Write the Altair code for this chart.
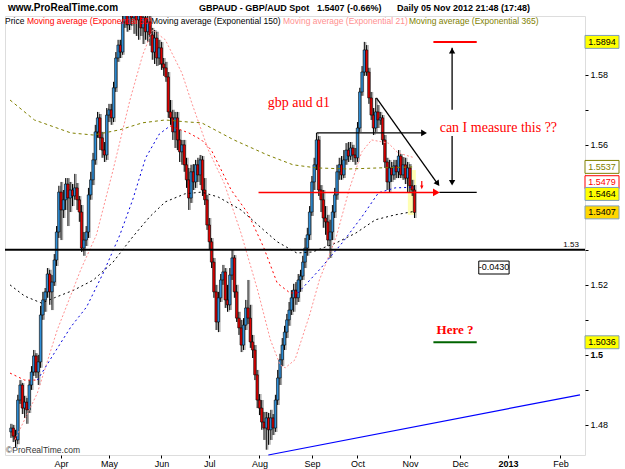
import altair as alt
import pandas as pd

# ---------------- data ----------------
# trading-day index, 0 = 1 Mar 2012 ... 177 = 5 Nov 2012
day_index = list(range(178))

opens = [
    1.4780, 1.4791, 1.4768, 1.4757, 1.4871, 1.4914, 1.4848, 1.4865, 1.4843, 1.4914,
    1.4951, 1.4997, 1.4951, 1.4980, 1.5114, 1.5157, 1.5180, 1.5231, 1.5180, 1.5208,
    1.5271, 1.5351, 1.5465, 1.5414, 1.5443, 1.5488, 1.5448, 1.5471, 1.5454, 1.5477,
    1.5443, 1.5408, 1.5305, 1.5328, 1.5351, 1.5457, 1.5500, 1.5557, 1.5637, 1.5677,
    1.5620, 1.5585, 1.5571, 1.5685, 1.5700, 1.5677, 1.5763, 1.5848, 1.5885, 1.5865,
    1.5951, 1.5980, 1.5943, 1.5985, 1.5963, 1.5997, 1.5957, 1.5974, 1.5934, 1.5963,
    1.5923, 1.5951, 1.5914, 1.5865, 1.5905, 1.5848, 1.5877, 1.5831, 1.5820, 1.5794,
    1.5694, 1.5677, 1.5637, 1.5677, 1.5614, 1.5580, 1.5600, 1.5543, 1.5500, 1.5448,
    1.5523, 1.5494, 1.5543, 1.5514, 1.5557, 1.5471, 1.5443, 1.5371, 1.5323, 1.5265,
    1.5180, 1.5094, 1.5163, 1.5214, 1.5237, 1.5157, 1.5143, 1.5228, 1.5277, 1.5180,
    1.5105, 1.5077, 1.5028, 1.5085, 1.5134, 1.5105, 1.5037, 1.5014, 1.4943, 1.4871,
    1.4848, 1.4808, 1.4791, 1.4820, 1.4786, 1.4820, 1.4791, 1.4871, 1.4934, 1.4986,
    1.5028, 1.5065, 1.5100, 1.5128, 1.5163, 1.5185, 1.5163, 1.5214, 1.5225, 1.5265,
    1.5305, 1.5343, 1.5408, 1.5494, 1.5543, 1.5614, 1.5471, 1.5443, 1.5391, 1.5380,
    1.5328, 1.5351, 1.5408, 1.5457, 1.5523, 1.5543, 1.5514, 1.5557, 1.5585, 1.5568,
    1.5591, 1.5571, 1.5563, 1.5648, 1.5751, 1.5808, 1.5871, 1.5808, 1.5734, 1.5685,
    1.5648, 1.5694, 1.5671, 1.5677, 1.5614, 1.5551, 1.5494, 1.5534, 1.5514, 1.5540,
    1.5523, 1.5568, 1.5514, 1.5543, 1.5505, 1.5534, 1.5483, 1.5471,
]
highs = [
    1.4803, 1.4800, 1.4786, 1.4886, 1.4928, 1.4920, 1.4883, 1.4877, 1.4928, 1.4968,
    1.5014, 1.5005, 1.5000, 1.5140, 1.5180, 1.5191, 1.5248, 1.5243, 1.5228, 1.5288,
    1.5368, 1.5483, 1.5494, 1.5471, 1.5505, 1.5505, 1.5494, 1.5488, 1.5517, 1.5491,
    1.5454, 1.5428, 1.5351, 1.5368, 1.5477, 1.5523, 1.5577, 1.5657, 1.5694, 1.5688,
    1.5637, 1.5608, 1.5705, 1.5717, 1.5717, 1.5780, 1.5865, 1.5900, 1.5900, 1.5980,
    1.6008, 1.6005, 1.6025, 1.6020, 1.6037, 1.6020, 1.6003, 1.6008, 1.5991, 1.5985,
    1.5980, 1.5974, 1.5934, 1.5928, 1.5923, 1.5900, 1.5894, 1.5848, 1.5837, 1.5808,
    1.5728, 1.5700, 1.5694, 1.5694, 1.5643, 1.5614, 1.5614, 1.5563, 1.5534, 1.5543,
    1.5545, 1.5557, 1.5563, 1.5571, 1.5568, 1.5505, 1.5457, 1.5391, 1.5334, 1.5277,
    1.5200, 1.5180, 1.5231, 1.5257, 1.5248, 1.5200, 1.5248, 1.5300, 1.5285, 1.5200,
    1.5123, 1.5100, 1.5105, 1.5157, 1.5214, 1.5143, 1.5057, 1.5028, 1.4957, 1.4888,
    1.4871, 1.4837, 1.4837, 1.4834, 1.4843, 1.4831, 1.4886, 1.4957, 1.5003, 1.5048,
    1.5083, 1.5117, 1.5151, 1.5185, 1.5203, 1.5208, 1.5231, 1.5243, 1.5283, 1.5334,
    1.5363, 1.5425, 1.5511, 1.5563, 1.5634, 1.5625, 1.5485, 1.5471, 1.5425, 1.5400,
    1.5386, 1.5428, 1.5477, 1.5543, 1.5563, 1.5568, 1.5585, 1.5605, 1.5608, 1.5608,
    1.5600, 1.5591, 1.5665, 1.5763, 1.5825, 1.5894, 1.5885, 1.5820, 1.5751, 1.5705,
    1.5734, 1.5714, 1.5694, 1.5685, 1.5628, 1.5563, 1.5557, 1.5551, 1.5557, 1.5557,
    1.5585, 1.5574, 1.5565, 1.5563, 1.5551, 1.5545, 1.5500, 1.5485,
]
lows = [
    1.4763, 1.4751, 1.4737, 1.4745, 1.4860, 1.4831, 1.4820, 1.4803, 1.4834, 1.4900,
    1.4940, 1.4934, 1.4914, 1.4963, 1.5100, 1.5123, 1.5163, 1.5143, 1.5128, 1.5197,
    1.5254, 1.5334, 1.5328, 1.5391, 1.5414, 1.5368, 1.5408, 1.5425, 1.5443, 1.5414,
    1.5380, 1.5294, 1.5283, 1.5311, 1.5334, 1.5443, 1.5485, 1.5543, 1.5620, 1.5585,
    1.5563, 1.5551, 1.5557, 1.5665, 1.5657, 1.5665, 1.5751, 1.5837, 1.5848, 1.5857,
    1.5934, 1.5923, 1.5928, 1.5940, 1.5917, 1.5911, 1.5900, 1.5911, 1.5888, 1.5900,
    1.5894, 1.5883, 1.5843, 1.5831, 1.5825, 1.5828, 1.5814, 1.5797, 1.5780, 1.5677,
    1.5657, 1.5614, 1.5591, 1.5585, 1.5551, 1.5543, 1.5523, 1.5477, 1.5414, 1.5434,
    1.5471, 1.5477, 1.5494, 1.5485, 1.5454, 1.5428, 1.5357, 1.5300, 1.5248, 1.5163,
    1.5071, 1.5065, 1.5151, 1.5200, 1.5134, 1.5123, 1.5128, 1.5214, 1.5163, 1.5094,
    1.5057, 1.5008, 1.5014, 1.5071, 1.5088, 1.5020, 1.4991, 1.4928, 1.4848, 1.4828,
    1.4786, 1.4757, 1.4729, 1.4743, 1.4757, 1.4771, 1.4780, 1.4857, 1.4914, 1.4968,
    1.5014, 1.5048, 1.5083, 1.5114, 1.5123, 1.5143, 1.5151, 1.5180, 1.5214, 1.5248,
    1.5283, 1.5328, 1.5397, 1.5471, 1.5528, 1.5454, 1.5408, 1.5363, 1.5343, 1.5311,
    1.5277, 1.5328, 1.5391, 1.5443, 1.5500, 1.5500, 1.5505, 1.5543, 1.5551, 1.5557,
    1.5551, 1.5543, 1.5551, 1.5637, 1.5740, 1.5797, 1.5797, 1.5717, 1.5671, 1.5628,
    1.5637, 1.5648, 1.5657, 1.5600, 1.5534, 1.5471, 1.5465, 1.5494, 1.5500, 1.5505,
    1.5505, 1.5505, 1.5500, 1.5488, 1.5465, 1.5465, 1.5454, 1.5391,
]
closes = [
    1.4791, 1.4768, 1.4757, 1.4871, 1.4914, 1.4848, 1.4865, 1.4843, 1.4914, 1.4951,
    1.4997, 1.4951, 1.4980, 1.5114, 1.5157, 1.5180, 1.5231, 1.5180, 1.5208, 1.5271,
    1.5351, 1.5465, 1.5414, 1.5443, 1.5488, 1.5448, 1.5471, 1.5454, 1.5477, 1.5443,
    1.5408, 1.5305, 1.5328, 1.5351, 1.5457, 1.5500, 1.5557, 1.5637, 1.5677, 1.5620,
    1.5585, 1.5571, 1.5685, 1.5700, 1.5677, 1.5763, 1.5848, 1.5885, 1.5865, 1.5951,
    1.5980, 1.5943, 1.5985, 1.5963, 1.5997, 1.5957, 1.5974, 1.5934, 1.5963, 1.5923,
    1.5951, 1.5914, 1.5865, 1.5905, 1.5848, 1.5877, 1.5831, 1.5820, 1.5794, 1.5694,
    1.5677, 1.5637, 1.5677, 1.5614, 1.5580, 1.5600, 1.5543, 1.5500, 1.5448, 1.5523,
    1.5494, 1.5543, 1.5514, 1.5557, 1.5471, 1.5443, 1.5371, 1.5323, 1.5265, 1.5180,
    1.5094, 1.5163, 1.5214, 1.5237, 1.5157, 1.5143, 1.5228, 1.5277, 1.5180, 1.5105,
    1.5077, 1.5028, 1.5085, 1.5134, 1.5105, 1.5037, 1.5014, 1.4943, 1.4871, 1.4848,
    1.4808, 1.4791, 1.4820, 1.4786, 1.4820, 1.4791, 1.4871, 1.4934, 1.4986, 1.5028,
    1.5065, 1.5100, 1.5128, 1.5163, 1.5185, 1.5163, 1.5214, 1.5225, 1.5265, 1.5305,
    1.5343, 1.5408, 1.5494, 1.5543, 1.5614, 1.5471, 1.5443, 1.5391, 1.5380, 1.5328,
    1.5351, 1.5408, 1.5457, 1.5523, 1.5543, 1.5514, 1.5557, 1.5585, 1.5568, 1.5591,
    1.5571, 1.5563, 1.5648, 1.5751, 1.5808, 1.5871, 1.5808, 1.5734, 1.5685, 1.5648,
    1.5694, 1.5671, 1.5677, 1.5614, 1.5551, 1.5494, 1.5534, 1.5514, 1.5540, 1.5523,
    1.5568, 1.5514, 1.5543, 1.5505, 1.5534, 1.5483, 1.5471, 1.5407,
]

# moving averages at sample days
ema21_day = [1.7, 11.6, 20.3, 30.6, 37.5, 44.8, 52.2, 57.8, 62.1, 67.7, 75.0, 79.3, 86.6, 93.5, 100.9,
             108.2, 113.8, 118.1, 120.3, 124.6, 131.0, 135.3, 142.7, 148.3, 153.9, 158.2, 165.5, 169.8, 177]
ema21_val = [1.4757, 1.4891, 1.5071, 1.5243, 1.5343, 1.5528, 1.5728, 1.5857, 1.5928, 1.5900, 1.5805, 1.5720,
             1.5585, 1.5491, 1.5348, 1.5185, 1.5043, 1.4971, 1.4963, 1.4986, 1.5114, 1.5214, 1.5337, 1.5471,
             1.5580, 1.5614, 1.5605, 1.5577, 1.5563]

ema50_day = [-0.4, 6.0, 11.6, 11.6, 19.0, 26.3, 33.2, 40.5, 47.8, 53.4, 59.1, 65.1, 69.8,
             69.8, 78.0, 83.6, 87.9, 96.6, 103.9, 110.8, 116.8, 122.4, 125.9,
             125.9, 135.3, 145.3, 153.9, 161.2, 168.5, 177]
ema50_val = [1.4948, 1.4928, 1.4928, 1.4928, 1.5005, 1.5080, 1.5137, 1.5234, 1.5343, 1.5443, 1.5563, 1.5631, 1.5654,
             1.5654, 1.5634, 1.5614, 1.5585, 1.5471, 1.5405, 1.5308, 1.5205, 1.5177, 1.5177,
             1.5177, 1.5243, 1.5320, 1.5394, 1.5463, 1.5477, 1.5479]
ema50_seg = [0, 0, 0, 1, 1, 1, 1, 1, 1, 1, 1, 1, 1,
             2, 2, 2, 2, 2, 2, 2, 2, 2, 2,
             3, 3, 3, 3, 3, 3, 3]

ema150_day = [-0.4, 6.0, 13.4, 19.0, 27.6, 36.2, 44.8, 53.4, 60.8, 67.7, 76.3, 83.6, 90.9, 100.9, 110.8,
              116.8, 125.4, 132.3, 142.7, 151.3, 159.9, 168.5, 177]
ema150_val = [1.5200, 1.5168, 1.5148, 1.5163, 1.5185, 1.5214, 1.5265, 1.5337, 1.5394, 1.5437, 1.5460, 1.5465,
              1.5451, 1.5414, 1.5357, 1.5323, 1.5291, 1.5294, 1.5320, 1.5348, 1.5386, 1.5400, 1.5410]

ema365_day = [-0.4, 10.3, 26.3, 36.2, 47.8, 57.8, 67.7, 78.0, 83.6, 97.8, 112.5, 123.7, 134.1, 148.3, 161.2, 177]
ema365_val = [1.5728, 1.5671, 1.5634, 1.5628, 1.5643, 1.5663, 1.5671, 1.5665, 1.5663, 1.5614, 1.5571, 1.5543,
              1.5534, 1.5531, 1.5534, 1.5537]

month_ticks = [22, 43, 66, 87, 109, 132, 152, 175, 197, 218, 241]
month_labels = ["Apr", "May", "Jun", "Jul", "Aug", "Sep", "Oct", "Nov", "Dec", "2013", "Feb"]

price_ticks = [1.48, 1.49, 1.50, 1.51, 1.52, 1.53, 1.54, 1.55, 1.56, 1.57, 1.58, 1.59]
price_tick_labels = ["1.48", "", "1.5", "", "1.52", "", "", "", "1.56", "", "1.58", ""]

legend_texts = ["Price", "Moving average (Exponential 50)", "Moving average (Exponential 150)",
                "Moving average (Exponential 21)", "Moving average (Exponential 365)"]

# ---------------- scales / axes / helpers ----------------
xsc = alt.Scale(domain=[-0.41, 249.6], nice=False, zero=False)
ysc = alt.Scale(domain=[1.4714, 1.5968], nice=False, zero=False)

x_expr = " : ".join(f"datum.value == {t} ? '{l}'" for t, l in zip(month_ticks, month_labels)) + " : ''"
y_expr = " : ".join(f"abs(datum.value - {t}) < 0.001 ? '{l}'" for t, l in zip(price_ticks, price_tick_labels)) + " : ''"

x_axis = alt.Axis(values=month_ticks, labelExpr=x_expr, tickSize=3, tickColor="black", domain=False,
                  grid=False, labelFontSize=9, labelColor="black", labelPadding=1, title=None,
                  labelFont="Liberation Sans", labelOverlap=False, labelFlush=False,
                  labelFontWeight={"condition": {"test": "datum.value == 218", "value": "bold"}, "value": "normal"})
y_axis = alt.Axis(orient="right", values=price_ticks, labelExpr=y_expr, tickSize=3, tickColor="black",
                  domain=False, grid=False, labelFontSize=9, labelColor="black", labelPadding=2, title=None,
                  labelFont="Liberation Sans", labelOverlap=False, labelFlush=False,
                  labelFontWeight={"condition": {"test": "abs(datum.value - 1.5) < 0.001", "value": "bold"},
                                   "value": "normal"})


def xq(field, **kw):
    return alt.X(field, type="quantitative", scale=xsc, axis=x_axis, **kw)


def yq(field, **kw):
    return alt.Y(field, type="quantitative", scale=ysc, axis=y_axis, **kw)


candles = pd.DataFrame({"day": day_index, "open": opens, "high": highs, "low": lows, "close": closes})
base = alt.Chart(candles)

highlight = alt.Chart(pd.DataFrame({"x": [174.1], "x2": [177.6], "y": [1.5400], "y2": [1.5528]})).mark_rect(
    color="#ffffa0", opacity=0.8).encode(x=xq("x"), x2="x2", y=yq("y"), y2="y2")

shadow = base.mark_rule(color="#a8a8a8", strokeWidth=1.4, xOffset=1.4, clip=True).encode(
    x=xq("day"), y=yq("low"), y2="high")
wick = base.mark_rule(color="black", strokeWidth=1, clip=True).encode(
    x=xq("day"), y=yq("low"), y2="high")
body = base.mark_bar(size=2.4, stroke="black", strokeWidth=0.6, clip=True).encode(
    x=xq("day"), y=yq("open"), y2="close",
    fill=alt.condition("datum.close >= datum.open", alt.value("#2f8fd8"), alt.value("#e00000")))


def ma_line(days, vals, color, dash):
    df = pd.DataFrame({"d": days, "v": vals})
    return alt.Chart(df).mark_line(color=color, strokeWidth=1, strokeDash=dash, clip=True).encode(
        x=xq("d"), y=yq("v"), order="d:Q")


ema365 = ma_line(ema365_day, ema365_val, "#808000", [3, 3])
ema150 = ma_line(ema150_day, ema150_val, "#000000", [2, 3])
ema21 = ma_line(ema21_day, ema21_val, "#ff9090", [2, 2])
ema50 = alt.Chart(pd.DataFrame({"d": ema50_day, "v": ema50_val, "s": ema50_seg})).mark_line(
    strokeWidth=1, strokeDash=[2, 3], clip=True).encode(
    x=xq("d"), y=yq("v"),
    color=alt.Color("s:N", scale=alt.Scale(domain=[0, 1, 2, 3], range=["#ff0000", "#0000dd", "#ff0000", "#0000dd"]),
                    legend=None))


def segs(rows, color, width):
    df = pd.DataFrame(rows, columns=["x", "y", "x2", "y2"])
    return alt.Chart(df).mark_rule(color=color, strokeWidth=width).encode(
        x=xq("x"), y=yq("y"), x2="x2", y2="y2")


def pts(rows, shape, color, size, angle=0):
    df = pd.DataFrame(rows, columns=["x", "y"])
    return alt.Chart(df).mark_point(shape=shape, filled=True, color=color, size=size, angle=angle,
                                    opacity=1).encode(x=xq("x"), y=yq("y"))


def txt(rows, **kw):
    df = pd.DataFrame(rows, columns=["x", "y", "t"])
    return alt.Chart(df).mark_text(**kw).encode(x=xq("x"), y=yq("y"), text="t:N")


level_153 = alt.Chart(pd.DataFrame({"y": [1.53]})).mark_rule(color="black", strokeWidth=2).encode(y=yq("y"))
trend = segs([(112.9, 1.4714, 249.6, 1.4886)], "#0000ff", 1.2)
black_lines = segs([
    (134.1, 1.5634, 181.0, 1.5634),
    (187.9, 1.5464, 204.3, 1.5464),
    (160.3, 1.5734, 187.0, 1.5490),
    (193.5, 1.5877, 193.5, 1.5700),
    (193.5, 1.5625, 193.5, 1.5490),
], "black", 1.3)
red_line = segs([(108.6, 1.5464, 186.0, 1.5464)], "#ff0000", 1.5)
red_top = segs([(185.3, 1.5894, 204.3, 1.5894)], "#ff0000", 2)
green = segs([(185.3, 1.5036, 204.3, 1.5036)], "#006400", 2)

heads = alt.layer(
    pts([(181.2, 1.5634)], "triangle-right", "black", 45),
    pts([(186.6, 1.5464)], "triangle-right", "#ff0000", 60),
    pts([(193.5, 1.5869)], "triangle-up", "black", 40),
    pts([(193.5, 1.5492)], "triangle-down", "black", 40),
    pts([(187.2, 1.5489)], "triangle-right", "black", 40, angle=54),
    pts([(180.2, 1.5485)], "arrow", "#ff0000", 70, angle=180),
)

box_0430 = alt.Chart(pd.DataFrame({"x": [205.2], "x2": [218.5], "y": [1.5231], "y2": [1.5268]})).mark_rect(
    fill="white", stroke="black", strokeWidth=1).encode(x=xq("x"), x2="x2", y=yq("y"), y2="y2")

notes = alt.layer(
    txt([(126.3, 1.5720, "gbp aud d1")], font="Liberation Serif", fontSize=14, color="#ff0000"),
    txt([(213.8, 1.5648, "can I measure this ??")], font="Liberation Serif", fontSize=14, color="#ff0000"),
    txt([(194.8, 1.5071, "Here ?")], font="Liberation Serif", fontSize=13, fontWeight="bold", color="#ff0000"),
    txt([(245.7, 1.53, "1.53")], font="Liberation Sans", fontSize=8, color="black", baseline="bottom", dy=-1),
    txt([(211.9, 1.5250, "-0.0430")], font="Liberation Sans", fontSize=9, color="black"),
)

# price boxes on the right axis
box_shape = "M-1,-0.38H1V0.38H-1Z"
box_styles = [
    (1.5894, "1.5894", "#ffff00", "#7f9db9", "black", 0),
    (1.5537, "1.5537", "white", "#808000", "#808000", 0),
    (1.5479, "1.5479", "white", "#ff0000", "#ff0000", -5),
    (1.5464, "1.5464", "#ffff00", "#7f9db9", "black", 1.5),
    (1.5407, "1.5407", "#ffd700", "#7f9db9", "black", 0),
    (1.5036, "1.5036", "#ffff00", "#7f9db9", "black", 0),
]
price_boxes = []
for val, lab, fill, stroke, tcol, off in box_styles:
    d = pd.DataFrame({"y": [val], "t": [lab]})
    price_boxes.append(alt.Chart(d).mark_point(shape=box_shape, size=1156, filled=True, fill=fill, stroke=stroke,
                                               strokeWidth=1, opacity=1, yOffset=off).encode(
        x=alt.value(597), y=yq("y")))
    price_boxes.append(alt.Chart(d).mark_text(font="Liberation Sans", fontSize=9, color=tcol, yOffset=off).encode(
        x=alt.value(597), y=yq("y"), text="t:N"))

one = pd.DataFrame({"a": [0]})


def ptext(text, x, y, **kw):
    return alt.Chart(one).mark_text(text=text, align="left", baseline="middle", **kw).encode(
        x=alt.value(x), y=alt.value(y))


legend_x = [0, 22, 146, 278, 404]
legend_colors = ["black", "#ff0000", "black", "#ff9090", "#808000"]
header = [
    ptext("www.ProRealTime.com", 3, -8, font="Liberation Sans", fontSize=10, fontWeight="bold", color="black"),
    ptext("GBPAUD - GBP/AUD Spot", 194, -8, font="Liberation Sans", fontSize=9, fontWeight="bold", color="black"),
    ptext("1.5407 (-0.66%)", 312, -8, font="Liberation Sans", fontSize=9, fontWeight="bold", color="black"),
    ptext("Daily  05 Nov 2012 21:48 (17:48)", 392, -8, font="Liberation Sans", fontSize=9, fontWeight="bold",
          color="black"),
    ptext("\u00a9ProRealTime.com", 1, 434, font="Liberation Sans", fontSize=8.5, color="#333333"),
]
for t, lx, c in zip(legend_texts, legend_x, legend_colors):
    header.append(ptext(t, lx, 5, font="Liberation Sans", fontSize=8.5, color=c))

chart = alt.layer(
    highlight, shadow, wick, body,
    ema365, ema150, ema21, ema50,
    level_153, trend, black_lines, red_line, red_top, green, heads,
    box_0430, notes,
    *price_boxes, *header,
).properties(
    width=580, height=439,
    padding={"left": 5, "top": 16, "right": 40, "bottom": 14},
    autosize=alt.AutoSizeParams(type="none"),
    background="white",
).configure_view(stroke="black", strokeWidth=1).configure(font="Liberation Sans")

chart.save("out.html", embed_options={"renderer": "svg", "actions": False})
